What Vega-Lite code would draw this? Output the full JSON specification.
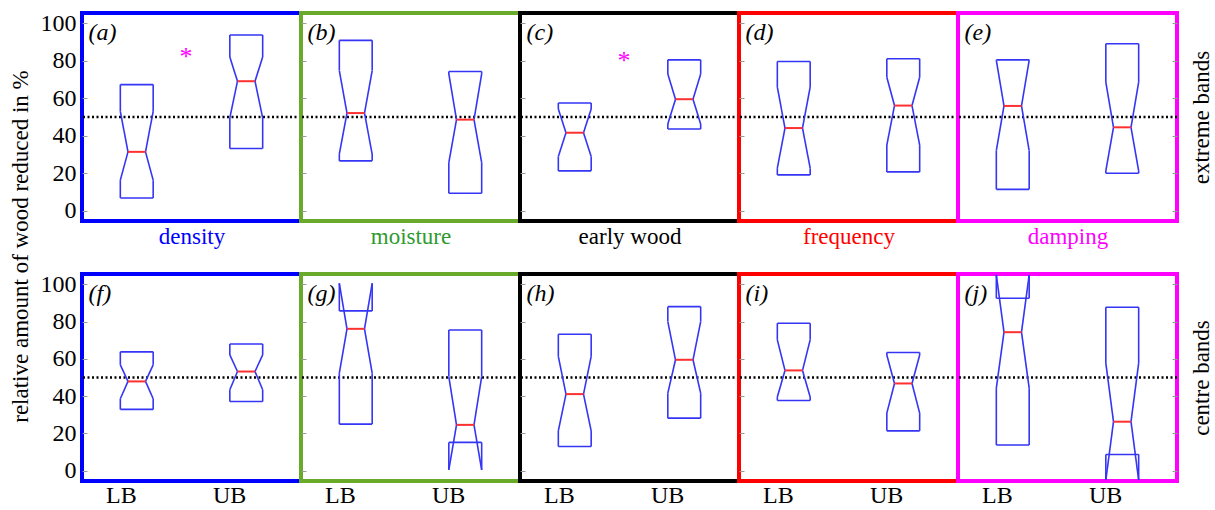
{
"$schema":"https://vega.github.io/schema/vega-lite/v6.json",
"padding":{"left":6,"top":9,"right":0,"bottom":0},
"background":"white",
"datasets":{
"boxes":[
{"p":"a","g":"LB","q1":6.8,"nlo":16.3,"med":31.4,"nhi":53,"q3":67.3},
{"p":"a","g":"UB","q1":33.2,"nlo":49.5,"med":69.1,"nhi":82,"q3":93.75},
{"p":"b","g":"LB","q1":26.6,"nlo":30.2,"med":52.1,"nhi":74.8,"q3":90.9},
{"p":"b","g":"UB","q1":9.3,"nlo":25.7,"med":48.6,"nhi":73,"q3":74.3},
{"p":"c","g":"LB","q1":21.25,"nlo":28.9,"med":41.6,"nhi":54.3,"q3":57.5},
{"p":"c","g":"UB","q1":43.6,"nlo":46.25,"med":59.5,"nhi":73,"q3":80.5},
{"p":"d","g":"LB","q1":19.1,"nlo":22.7,"med":44.1,"nhi":65.9,"q3":79.6},
{"p":"d","g":"UB","q1":20.7,"nlo":35,"med":56.1,"nhi":71.25,"q3":81.1},
{"p":"e","g":"LB","q1":11.4,"nlo":32,"med":55.9,"nhi":80.2,"q3":80.5},
{"p":"e","g":"UB","q1":20,"nlo":21.25,"med":44.5,"nhi":68.6,"q3":89.1},
{"p":"f","g":"LB","q1":32.9,"nlo":38.6,"med":47.9,"nhi":56.8,"q3":63.75},
{"p":"f","g":"UB","q1":37.1,"nlo":43.4,"med":53.2,"nhi":62.1,"q3":68},
{"p":"g","g":"LB","q1":25,"nlo":52.3,"med":76.1,"nhi":100.5,"q3":85.7},
{"p":"g","g":"UB","q1":15.2,"nlo":0.5,"med":24.6,"nhi":50.5,"q3":75.5},
{"p":"h","g":"LB","q1":13,"nlo":21.4,"med":41.1,"nhi":61.3,"q3":73.2},
{"p":"h","g":"UB","q1":28.2,"nlo":41.6,"med":59.5,"nhi":80,"q3":88},
{"p":"i","g":"LB","q1":37.7,"nlo":39.5,"med":53.8,"nhi":70.2,"q3":79.1},
{"p":"i","g":"UB","q1":21.4,"nlo":30.9,"med":46.8,"nhi":62.1,"q3":63.4},
{"p":"j","g":"LB","q1":13.8,"nlo":44.3,"med":74.3,"nhi":105,"q3":92.5},
{"p":"j","g":"UB","q1":8.75,"nlo":-5,"med":26.3,"nhi":57.7,"q3":87.7}
],
"panels":[
{"p":"a","label":"(a)","star":83.2},
{"p":"b","label":"(b)"},
{"p":"c","label":"(c)","star":81},
{"p":"d","label":"(d)"},
{"p":"e","label":"(e)"},
{"p":"f","label":"(f)"},
{"p":"g","label":"(g)"},
{"p":"h","label":"(h)"},
{"p":"i","label":"(i)"},
{"p":"j","label":"(j)"}
],
"ref":[{"y":50}]
},
"spacing":261,
"bounds":"flush",
"vconcat":[
{"hconcat":[
{"width":219,"height":208,"view":{"stroke":"#0000ff","strokeWidth":4},"data":{"name":"boxes"},"transform":[{"filter":"datum.p==='a'"}],
"layer":[
{"data":{"name":"ref"},"mark":{"type":"rule","color":"#000000","strokeWidth":2.5,"strokeDash":[2,2.5]},"encoding":{"y":{"field":"y","type":"quantitative"}}},
{"mark":{"type":"rule","color":"#3535f5","strokeWidth":1.6},"encoding":{"x":{"field":"g","type":"nominal","bandPosition":0.35,"scale":{"type":"band"}},"y":{"field":"q1","type":"quantitative"},"y2":{"field":"nlo"}}},
{"mark":{"type":"rule","color":"#3535f5","strokeWidth":1.6},"encoding":{"x":{"field":"g","type":"nominal","bandPosition":0.35,"scale":{"type":"band"}},"y":{"field":"nhi","type":"quantitative"},"y2":{"field":"q3"}}},
{"mark":{"type":"rule","color":"#3535f5","strokeWidth":1.6},"encoding":{"x":{"field":"g","type":"nominal","bandPosition":0.65,"scale":{"type":"band"}},"y":{"field":"q1","type":"quantitative"},"y2":{"field":"nlo"}}},
{"mark":{"type":"rule","color":"#3535f5","strokeWidth":1.6},"encoding":{"x":{"field":"g","type":"nominal","bandPosition":0.65,"scale":{"type":"band"}},"y":{"field":"nhi","type":"quantitative"},"y2":{"field":"q3"}}},
{"mark":{"type":"rule","color":"#3535f5","strokeWidth":1.6},"encoding":{"x":{"field":"g","type":"nominal","bandPosition":0.35,"scale":{"type":"band"}},"x2":{"field":"g","bandPosition":0.65},"y":{"field":"q1","type":"quantitative"}}},
{"mark":{"type":"rule","color":"#3535f5","strokeWidth":1.6},"encoding":{"x":{"field":"g","type":"nominal","bandPosition":0.35,"scale":{"type":"band"}},"x2":{"field":"g","bandPosition":0.65},"y":{"field":"q3","type":"quantitative"}}},
{"mark":{"type":"rule","color":"#3535f5","strokeWidth":1.6},"encoding":{"x":{"field":"g","type":"nominal","bandPosition":0.35,"scale":{"type":"band"}},"x2":{"field":"g","bandPosition":0.42},"y":{"field":"nlo","type":"quantitative"},"y2":{"field":"med"}}},
{"mark":{"type":"rule","color":"#3535f5","strokeWidth":1.6},"encoding":{"x":{"field":"g","type":"nominal","bandPosition":0.35,"scale":{"type":"band"}},"x2":{"field":"g","bandPosition":0.42},"y":{"field":"nhi","type":"quantitative"},"y2":{"field":"med"}}},
{"mark":{"type":"rule","color":"#3535f5","strokeWidth":1.6},"encoding":{"x":{"field":"g","type":"nominal","bandPosition":0.65,"scale":{"type":"band"}},"x2":{"field":"g","bandPosition":0.58},"y":{"field":"nlo","type":"quantitative"},"y2":{"field":"med"}}},
{"mark":{"type":"rule","color":"#3535f5","strokeWidth":1.6},"encoding":{"x":{"field":"g","type":"nominal","bandPosition":0.65,"scale":{"type":"band"}},"x2":{"field":"g","bandPosition":0.58},"y":{"field":"nhi","type":"quantitative"},"y2":{"field":"med"}}},
{"mark":{"type":"rule","color":"#ff3030","strokeWidth":2},"encoding":{"x":{"field":"g","type":"nominal","bandPosition":0.42,"scale":{"type":"band"},"axis":{"labels":false,"ticks":false,"title":"density","titleColor":"#0000ff","titlePadding":4}},"x2":{"field":"g","bandPosition":0.58},"y":{"field":"med","type":"quantitative","scale":{"domain":[-5.5,105.5],"nice":false,"zero":false},"axis":{"values":[0,20,40,60,80,100],"tickSize":-5,"tickColor":"#999999","labelPadding":11,"title":"relative amount of wood reduced in %","titleAngle":270,"titleX":-55,"titleY":233,"titleAlign":"center","titleBaseline":"alphabetic"}}}},
{"data":{"name":"panels"},"transform":[{"filter":"datum.p==='a'"}],"mark":{"type":"text","align":"left","baseline":"middle","font":"Liberation Serif","fontSize":24,"fontStyle":"italic"},"encoding":{"x":{"datum":"LB","type":"nominal","bandPosition":0.06,"scale":{"type":"band"}},"y":{"datum":95,"type":"quantitative"},"text":{"field":"label"}}},
{"data":{"name":"panels"},"transform":[{"filter":"datum.p==='a'"}],"mark":{"type":"text","color":"#ff00ff","fontSize":26,"font":"Liberation Serif","baseline":"middle","dy":2},"encoding":{"x":{"datum":"LB","type":"nominal","bandPosition":0.95,"scale":{"type":"band"}},"y":{"field":"star","type":"quantitative"},"text":{"value":"*"}}}
]},
{"width":219,"height":208,"view":{"stroke":"#6aaa2a","strokeWidth":4},"data":{"name":"boxes"},"transform":[{"filter":"datum.p==='b'"}],
"layer":[
{"data":{"name":"ref"},"mark":{"type":"rule","color":"#000000","strokeWidth":2.5,"strokeDash":[2,2.5]},"encoding":{"y":{"field":"y","type":"quantitative"}}},
{"mark":{"type":"rule","color":"#3535f5","strokeWidth":1.6},"encoding":{"x":{"field":"g","type":"nominal","bandPosition":0.35,"scale":{"type":"band"}},"y":{"field":"q1","type":"quantitative"},"y2":{"field":"nlo"}}},
{"mark":{"type":"rule","color":"#3535f5","strokeWidth":1.6},"encoding":{"x":{"field":"g","type":"nominal","bandPosition":0.35,"scale":{"type":"band"}},"y":{"field":"nhi","type":"quantitative"},"y2":{"field":"q3"}}},
{"mark":{"type":"rule","color":"#3535f5","strokeWidth":1.6},"encoding":{"x":{"field":"g","type":"nominal","bandPosition":0.65,"scale":{"type":"band"}},"y":{"field":"q1","type":"quantitative"},"y2":{"field":"nlo"}}},
{"mark":{"type":"rule","color":"#3535f5","strokeWidth":1.6},"encoding":{"x":{"field":"g","type":"nominal","bandPosition":0.65,"scale":{"type":"band"}},"y":{"field":"nhi","type":"quantitative"},"y2":{"field":"q3"}}},
{"mark":{"type":"rule","color":"#3535f5","strokeWidth":1.6},"encoding":{"x":{"field":"g","type":"nominal","bandPosition":0.35,"scale":{"type":"band"}},"x2":{"field":"g","bandPosition":0.65},"y":{"field":"q1","type":"quantitative"}}},
{"mark":{"type":"rule","color":"#3535f5","strokeWidth":1.6},"encoding":{"x":{"field":"g","type":"nominal","bandPosition":0.35,"scale":{"type":"band"}},"x2":{"field":"g","bandPosition":0.65},"y":{"field":"q3","type":"quantitative"}}},
{"mark":{"type":"rule","color":"#3535f5","strokeWidth":1.6},"encoding":{"x":{"field":"g","type":"nominal","bandPosition":0.35,"scale":{"type":"band"}},"x2":{"field":"g","bandPosition":0.42},"y":{"field":"nlo","type":"quantitative"},"y2":{"field":"med"}}},
{"mark":{"type":"rule","color":"#3535f5","strokeWidth":1.6},"encoding":{"x":{"field":"g","type":"nominal","bandPosition":0.35,"scale":{"type":"band"}},"x2":{"field":"g","bandPosition":0.42},"y":{"field":"nhi","type":"quantitative"},"y2":{"field":"med"}}},
{"mark":{"type":"rule","color":"#3535f5","strokeWidth":1.6},"encoding":{"x":{"field":"g","type":"nominal","bandPosition":0.65,"scale":{"type":"band"}},"x2":{"field":"g","bandPosition":0.58},"y":{"field":"nlo","type":"quantitative"},"y2":{"field":"med"}}},
{"mark":{"type":"rule","color":"#3535f5","strokeWidth":1.6},"encoding":{"x":{"field":"g","type":"nominal","bandPosition":0.65,"scale":{"type":"band"}},"x2":{"field":"g","bandPosition":0.58},"y":{"field":"nhi","type":"quantitative"},"y2":{"field":"med"}}},
{"mark":{"type":"rule","color":"#ff3030","strokeWidth":2},"encoding":{"x":{"field":"g","type":"nominal","bandPosition":0.42,"scale":{"type":"band"},"axis":{"labels":false,"ticks":false,"title":"moisture","titleColor":"#2e9a2e","titlePadding":4}},"x2":{"field":"g","bandPosition":0.58},"y":{"field":"med","type":"quantitative","scale":{"domain":[-5.5,105.5],"nice":false,"zero":false},"axis":{"values":[0,20,40,60,80,100],"tickSize":-5,"tickColor":"#999999","labels":false,"title":null}}}},
{"data":{"name":"panels"},"transform":[{"filter":"datum.p==='b'"}],"mark":{"type":"text","align":"left","baseline":"middle","font":"Liberation Serif","fontSize":24,"fontStyle":"italic"},"encoding":{"x":{"datum":"LB","type":"nominal","bandPosition":0.06,"scale":{"type":"band"}},"y":{"datum":95,"type":"quantitative"},"text":{"field":"label"}}}
]},
{"width":219,"height":208,"view":{"stroke":"#000000","strokeWidth":4},"data":{"name":"boxes"},"transform":[{"filter":"datum.p==='c'"}],
"layer":[
{"data":{"name":"ref"},"mark":{"type":"rule","color":"#000000","strokeWidth":2.5,"strokeDash":[2,2.5]},"encoding":{"y":{"field":"y","type":"quantitative"}}},
{"mark":{"type":"rule","color":"#3535f5","strokeWidth":1.6},"encoding":{"x":{"field":"g","type":"nominal","bandPosition":0.35,"scale":{"type":"band"}},"y":{"field":"q1","type":"quantitative"},"y2":{"field":"nlo"}}},
{"mark":{"type":"rule","color":"#3535f5","strokeWidth":1.6},"encoding":{"x":{"field":"g","type":"nominal","bandPosition":0.35,"scale":{"type":"band"}},"y":{"field":"nhi","type":"quantitative"},"y2":{"field":"q3"}}},
{"mark":{"type":"rule","color":"#3535f5","strokeWidth":1.6},"encoding":{"x":{"field":"g","type":"nominal","bandPosition":0.65,"scale":{"type":"band"}},"y":{"field":"q1","type":"quantitative"},"y2":{"field":"nlo"}}},
{"mark":{"type":"rule","color":"#3535f5","strokeWidth":1.6},"encoding":{"x":{"field":"g","type":"nominal","bandPosition":0.65,"scale":{"type":"band"}},"y":{"field":"nhi","type":"quantitative"},"y2":{"field":"q3"}}},
{"mark":{"type":"rule","color":"#3535f5","strokeWidth":1.6},"encoding":{"x":{"field":"g","type":"nominal","bandPosition":0.35,"scale":{"type":"band"}},"x2":{"field":"g","bandPosition":0.65},"y":{"field":"q1","type":"quantitative"}}},
{"mark":{"type":"rule","color":"#3535f5","strokeWidth":1.6},"encoding":{"x":{"field":"g","type":"nominal","bandPosition":0.35,"scale":{"type":"band"}},"x2":{"field":"g","bandPosition":0.65},"y":{"field":"q3","type":"quantitative"}}},
{"mark":{"type":"rule","color":"#3535f5","strokeWidth":1.6},"encoding":{"x":{"field":"g","type":"nominal","bandPosition":0.35,"scale":{"type":"band"}},"x2":{"field":"g","bandPosition":0.42},"y":{"field":"nlo","type":"quantitative"},"y2":{"field":"med"}}},
{"mark":{"type":"rule","color":"#3535f5","strokeWidth":1.6},"encoding":{"x":{"field":"g","type":"nominal","bandPosition":0.35,"scale":{"type":"band"}},"x2":{"field":"g","bandPosition":0.42},"y":{"field":"nhi","type":"quantitative"},"y2":{"field":"med"}}},
{"mark":{"type":"rule","color":"#3535f5","strokeWidth":1.6},"encoding":{"x":{"field":"g","type":"nominal","bandPosition":0.65,"scale":{"type":"band"}},"x2":{"field":"g","bandPosition":0.58},"y":{"field":"nlo","type":"quantitative"},"y2":{"field":"med"}}},
{"mark":{"type":"rule","color":"#3535f5","strokeWidth":1.6},"encoding":{"x":{"field":"g","type":"nominal","bandPosition":0.65,"scale":{"type":"band"}},"x2":{"field":"g","bandPosition":0.58},"y":{"field":"nhi","type":"quantitative"},"y2":{"field":"med"}}},
{"mark":{"type":"rule","color":"#ff3030","strokeWidth":2},"encoding":{"x":{"field":"g","type":"nominal","bandPosition":0.42,"scale":{"type":"band"},"axis":{"labels":false,"ticks":false,"title":"early wood","titleColor":"#000000","titlePadding":4}},"x2":{"field":"g","bandPosition":0.58},"y":{"field":"med","type":"quantitative","scale":{"domain":[-5.5,105.5],"nice":false,"zero":false},"axis":{"values":[0,20,40,60,80,100],"tickSize":-5,"tickColor":"#999999","labels":false,"title":null}}}},
{"data":{"name":"panels"},"transform":[{"filter":"datum.p==='c'"}],"mark":{"type":"text","align":"left","baseline":"middle","font":"Liberation Serif","fontSize":24,"fontStyle":"italic"},"encoding":{"x":{"datum":"LB","type":"nominal","bandPosition":0.06,"scale":{"type":"band"}},"y":{"datum":95,"type":"quantitative"},"text":{"field":"label"}}},
{"data":{"name":"panels"},"transform":[{"filter":"datum.p==='c'"}],"mark":{"type":"text","color":"#ff00ff","fontSize":26,"font":"Liberation Serif","baseline":"middle","dy":2},"encoding":{"x":{"datum":"LB","type":"nominal","bandPosition":0.95,"scale":{"type":"band"}},"y":{"field":"star","type":"quantitative"},"text":{"value":"*"}}}
]},
{"width":219,"height":208,"view":{"stroke":"#ff0000","strokeWidth":4},"data":{"name":"boxes"},"transform":[{"filter":"datum.p==='d'"}],
"layer":[
{"data":{"name":"ref"},"mark":{"type":"rule","color":"#000000","strokeWidth":2.5,"strokeDash":[2,2.5]},"encoding":{"y":{"field":"y","type":"quantitative"}}},
{"mark":{"type":"rule","color":"#3535f5","strokeWidth":1.6},"encoding":{"x":{"field":"g","type":"nominal","bandPosition":0.35,"scale":{"type":"band"}},"y":{"field":"q1","type":"quantitative"},"y2":{"field":"nlo"}}},
{"mark":{"type":"rule","color":"#3535f5","strokeWidth":1.6},"encoding":{"x":{"field":"g","type":"nominal","bandPosition":0.35,"scale":{"type":"band"}},"y":{"field":"nhi","type":"quantitative"},"y2":{"field":"q3"}}},
{"mark":{"type":"rule","color":"#3535f5","strokeWidth":1.6},"encoding":{"x":{"field":"g","type":"nominal","bandPosition":0.65,"scale":{"type":"band"}},"y":{"field":"q1","type":"quantitative"},"y2":{"field":"nlo"}}},
{"mark":{"type":"rule","color":"#3535f5","strokeWidth":1.6},"encoding":{"x":{"field":"g","type":"nominal","bandPosition":0.65,"scale":{"type":"band"}},"y":{"field":"nhi","type":"quantitative"},"y2":{"field":"q3"}}},
{"mark":{"type":"rule","color":"#3535f5","strokeWidth":1.6},"encoding":{"x":{"field":"g","type":"nominal","bandPosition":0.35,"scale":{"type":"band"}},"x2":{"field":"g","bandPosition":0.65},"y":{"field":"q1","type":"quantitative"}}},
{"mark":{"type":"rule","color":"#3535f5","strokeWidth":1.6},"encoding":{"x":{"field":"g","type":"nominal","bandPosition":0.35,"scale":{"type":"band"}},"x2":{"field":"g","bandPosition":0.65},"y":{"field":"q3","type":"quantitative"}}},
{"mark":{"type":"rule","color":"#3535f5","strokeWidth":1.6},"encoding":{"x":{"field":"g","type":"nominal","bandPosition":0.35,"scale":{"type":"band"}},"x2":{"field":"g","bandPosition":0.42},"y":{"field":"nlo","type":"quantitative"},"y2":{"field":"med"}}},
{"mark":{"type":"rule","color":"#3535f5","strokeWidth":1.6},"encoding":{"x":{"field":"g","type":"nominal","bandPosition":0.35,"scale":{"type":"band"}},"x2":{"field":"g","bandPosition":0.42},"y":{"field":"nhi","type":"quantitative"},"y2":{"field":"med"}}},
{"mark":{"type":"rule","color":"#3535f5","strokeWidth":1.6},"encoding":{"x":{"field":"g","type":"nominal","bandPosition":0.65,"scale":{"type":"band"}},"x2":{"field":"g","bandPosition":0.58},"y":{"field":"nlo","type":"quantitative"},"y2":{"field":"med"}}},
{"mark":{"type":"rule","color":"#3535f5","strokeWidth":1.6},"encoding":{"x":{"field":"g","type":"nominal","bandPosition":0.65,"scale":{"type":"band"}},"x2":{"field":"g","bandPosition":0.58},"y":{"field":"nhi","type":"quantitative"},"y2":{"field":"med"}}},
{"mark":{"type":"rule","color":"#ff3030","strokeWidth":2},"encoding":{"x":{"field":"g","type":"nominal","bandPosition":0.42,"scale":{"type":"band"},"axis":{"labels":false,"ticks":false,"title":"frequency","titleColor":"#ff0000","titlePadding":4}},"x2":{"field":"g","bandPosition":0.58},"y":{"field":"med","type":"quantitative","scale":{"domain":[-5.5,105.5],"nice":false,"zero":false},"axis":{"values":[0,20,40,60,80,100],"tickSize":-5,"tickColor":"#999999","labels":false,"title":null}}}},
{"data":{"name":"panels"},"transform":[{"filter":"datum.p==='d'"}],"mark":{"type":"text","align":"left","baseline":"middle","font":"Liberation Serif","fontSize":24,"fontStyle":"italic"},"encoding":{"x":{"datum":"LB","type":"nominal","bandPosition":0.06,"scale":{"type":"band"}},"y":{"datum":95,"type":"quantitative"},"text":{"field":"label"}}}
]},
{"width":219,"height":208,"view":{"stroke":"#ff00ff","strokeWidth":4},"data":{"name":"boxes"},"transform":[{"filter":"datum.p==='e'"}],
"layer":[
{"data":{"name":"ref"},"mark":{"type":"rule","color":"#000000","strokeWidth":2.5,"strokeDash":[2,2.5]},"encoding":{"y":{"field":"y","type":"quantitative"}}},
{"mark":{"type":"rule","color":"#3535f5","strokeWidth":1.6},"encoding":{"x":{"field":"g","type":"nominal","bandPosition":0.35,"scale":{"type":"band"}},"y":{"field":"q1","type":"quantitative"},"y2":{"field":"nlo"}}},
{"mark":{"type":"rule","color":"#3535f5","strokeWidth":1.6},"encoding":{"x":{"field":"g","type":"nominal","bandPosition":0.35,"scale":{"type":"band"}},"y":{"field":"nhi","type":"quantitative"},"y2":{"field":"q3"}}},
{"mark":{"type":"rule","color":"#3535f5","strokeWidth":1.6},"encoding":{"x":{"field":"g","type":"nominal","bandPosition":0.65,"scale":{"type":"band"}},"y":{"field":"q1","type":"quantitative"},"y2":{"field":"nlo"}}},
{"mark":{"type":"rule","color":"#3535f5","strokeWidth":1.6},"encoding":{"x":{"field":"g","type":"nominal","bandPosition":0.65,"scale":{"type":"band"}},"y":{"field":"nhi","type":"quantitative"},"y2":{"field":"q3"}}},
{"mark":{"type":"rule","color":"#3535f5","strokeWidth":1.6},"encoding":{"x":{"field":"g","type":"nominal","bandPosition":0.35,"scale":{"type":"band"}},"x2":{"field":"g","bandPosition":0.65},"y":{"field":"q1","type":"quantitative"}}},
{"mark":{"type":"rule","color":"#3535f5","strokeWidth":1.6},"encoding":{"x":{"field":"g","type":"nominal","bandPosition":0.35,"scale":{"type":"band"}},"x2":{"field":"g","bandPosition":0.65},"y":{"field":"q3","type":"quantitative"}}},
{"mark":{"type":"rule","color":"#3535f5","strokeWidth":1.6},"encoding":{"x":{"field":"g","type":"nominal","bandPosition":0.35,"scale":{"type":"band"}},"x2":{"field":"g","bandPosition":0.42},"y":{"field":"nlo","type":"quantitative"},"y2":{"field":"med"}}},
{"mark":{"type":"rule","color":"#3535f5","strokeWidth":1.6},"encoding":{"x":{"field":"g","type":"nominal","bandPosition":0.35,"scale":{"type":"band"}},"x2":{"field":"g","bandPosition":0.42},"y":{"field":"nhi","type":"quantitative"},"y2":{"field":"med"}}},
{"mark":{"type":"rule","color":"#3535f5","strokeWidth":1.6},"encoding":{"x":{"field":"g","type":"nominal","bandPosition":0.65,"scale":{"type":"band"}},"x2":{"field":"g","bandPosition":0.58},"y":{"field":"nlo","type":"quantitative"},"y2":{"field":"med"}}},
{"mark":{"type":"rule","color":"#3535f5","strokeWidth":1.6},"encoding":{"x":{"field":"g","type":"nominal","bandPosition":0.65,"scale":{"type":"band"}},"x2":{"field":"g","bandPosition":0.58},"y":{"field":"nhi","type":"quantitative"},"y2":{"field":"med"}}},
{"mark":{"type":"rule","color":"#ff3030","strokeWidth":2},"encoding":{"x":{"field":"g","type":"nominal","bandPosition":0.42,"scale":{"type":"band"},"axis":{"labels":false,"ticks":false,"title":"damping","titleColor":"#ff00ff","titlePadding":4}},"x2":{"field":"g","bandPosition":0.58},"y":{"field":"med","type":"quantitative","scale":{"domain":[-5.5,105.5],"nice":false,"zero":false},"axis":{"orient":"right","values":[0,20,40,60,80,100],"tickSize":-5,"tickColor":"#999999","labels":false,"title":"extreme bands","titleAngle":270,"titleX":31,"titleAlign":"center","titleBaseline":"alphabetic"}}}},
{"data":{"name":"panels"},"transform":[{"filter":"datum.p==='e'"}],"mark":{"type":"text","align":"left","baseline":"middle","font":"Liberation Serif","fontSize":24,"fontStyle":"italic"},"encoding":{"x":{"datum":"LB","type":"nominal","bandPosition":0.06,"scale":{"type":"band"}},"y":{"datum":95,"type":"quantitative"},"text":{"field":"label"}}}
]}
],"spacing":0,"bounds":"flush"},
{"hconcat":[
{"width":219,"height":207,"view":{"stroke":"#0000ff","strokeWidth":4},"data":{"name":"boxes"},"transform":[{"filter":"datum.p==='f'"}],
"layer":[
{"data":{"name":"ref"},"mark":{"type":"rule","color":"#000000","strokeWidth":2.5,"strokeDash":[2,2.5]},"encoding":{"y":{"field":"y","type":"quantitative"}}},
{"mark":{"type":"rule","color":"#3535f5","strokeWidth":1.6},"encoding":{"x":{"field":"g","type":"nominal","bandPosition":0.35,"scale":{"type":"band"}},"y":{"field":"q1","type":"quantitative"},"y2":{"field":"nlo"}}},
{"mark":{"type":"rule","color":"#3535f5","strokeWidth":1.6},"encoding":{"x":{"field":"g","type":"nominal","bandPosition":0.35,"scale":{"type":"band"}},"y":{"field":"nhi","type":"quantitative"},"y2":{"field":"q3"}}},
{"mark":{"type":"rule","color":"#3535f5","strokeWidth":1.6},"encoding":{"x":{"field":"g","type":"nominal","bandPosition":0.65,"scale":{"type":"band"}},"y":{"field":"q1","type":"quantitative"},"y2":{"field":"nlo"}}},
{"mark":{"type":"rule","color":"#3535f5","strokeWidth":1.6},"encoding":{"x":{"field":"g","type":"nominal","bandPosition":0.65,"scale":{"type":"band"}},"y":{"field":"nhi","type":"quantitative"},"y2":{"field":"q3"}}},
{"mark":{"type":"rule","color":"#3535f5","strokeWidth":1.6},"encoding":{"x":{"field":"g","type":"nominal","bandPosition":0.35,"scale":{"type":"band"}},"x2":{"field":"g","bandPosition":0.65},"y":{"field":"q1","type":"quantitative"}}},
{"mark":{"type":"rule","color":"#3535f5","strokeWidth":1.6},"encoding":{"x":{"field":"g","type":"nominal","bandPosition":0.35,"scale":{"type":"band"}},"x2":{"field":"g","bandPosition":0.65},"y":{"field":"q3","type":"quantitative"}}},
{"mark":{"type":"rule","color":"#3535f5","strokeWidth":1.6},"encoding":{"x":{"field":"g","type":"nominal","bandPosition":0.35,"scale":{"type":"band"}},"x2":{"field":"g","bandPosition":0.42},"y":{"field":"nlo","type":"quantitative"},"y2":{"field":"med"}}},
{"mark":{"type":"rule","color":"#3535f5","strokeWidth":1.6},"encoding":{"x":{"field":"g","type":"nominal","bandPosition":0.35,"scale":{"type":"band"}},"x2":{"field":"g","bandPosition":0.42},"y":{"field":"nhi","type":"quantitative"},"y2":{"field":"med"}}},
{"mark":{"type":"rule","color":"#3535f5","strokeWidth":1.6},"encoding":{"x":{"field":"g","type":"nominal","bandPosition":0.65,"scale":{"type":"band"}},"x2":{"field":"g","bandPosition":0.58},"y":{"field":"nlo","type":"quantitative"},"y2":{"field":"med"}}},
{"mark":{"type":"rule","color":"#3535f5","strokeWidth":1.6},"encoding":{"x":{"field":"g","type":"nominal","bandPosition":0.65,"scale":{"type":"band"}},"x2":{"field":"g","bandPosition":0.58},"y":{"field":"nhi","type":"quantitative"},"y2":{"field":"med"}}},
{"mark":{"type":"rule","color":"#ff3030","strokeWidth":2},"encoding":{"x":{"field":"g","type":"nominal","bandPosition":0.42,"scale":{"type":"band"},"axis":{"title":null,"ticks":false,"labelAngle":0,"labelPadding":14}},"x2":{"field":"g","bandPosition":0.58},"y":{"field":"med","type":"quantitative","scale":{"domain":[-5.5,105.5],"nice":false,"zero":false},"axis":{"values":[0,20,40,60,80,100],"tickSize":-5,"tickColor":"#999999","labelPadding":11,"title":null}}}},
{"data":{"name":"panels"},"transform":[{"filter":"datum.p==='f'"}],"mark":{"type":"text","align":"left","baseline":"middle","font":"Liberation Serif","fontSize":24,"fontStyle":"italic"},"encoding":{"x":{"datum":"LB","type":"nominal","bandPosition":0.06,"scale":{"type":"band"}},"y":{"datum":95,"type":"quantitative"},"text":{"field":"label"}}}
]},
{"width":219,"height":207,"view":{"stroke":"#6aaa2a","strokeWidth":4},"data":{"name":"boxes"},"transform":[{"filter":"datum.p==='g'"}],
"layer":[
{"data":{"name":"ref"},"mark":{"type":"rule","color":"#000000","strokeWidth":2.5,"strokeDash":[2,2.5]},"encoding":{"y":{"field":"y","type":"quantitative"}}},
{"mark":{"type":"rule","color":"#3535f5","strokeWidth":1.6},"encoding":{"x":{"field":"g","type":"nominal","bandPosition":0.35,"scale":{"type":"band"}},"y":{"field":"q1","type":"quantitative"},"y2":{"field":"nlo"}}},
{"mark":{"type":"rule","color":"#3535f5","strokeWidth":1.6},"encoding":{"x":{"field":"g","type":"nominal","bandPosition":0.35,"scale":{"type":"band"}},"y":{"field":"nhi","type":"quantitative"},"y2":{"field":"q3"}}},
{"mark":{"type":"rule","color":"#3535f5","strokeWidth":1.6},"encoding":{"x":{"field":"g","type":"nominal","bandPosition":0.65,"scale":{"type":"band"}},"y":{"field":"q1","type":"quantitative"},"y2":{"field":"nlo"}}},
{"mark":{"type":"rule","color":"#3535f5","strokeWidth":1.6},"encoding":{"x":{"field":"g","type":"nominal","bandPosition":0.65,"scale":{"type":"band"}},"y":{"field":"nhi","type":"quantitative"},"y2":{"field":"q3"}}},
{"mark":{"type":"rule","color":"#3535f5","strokeWidth":1.6},"encoding":{"x":{"field":"g","type":"nominal","bandPosition":0.35,"scale":{"type":"band"}},"x2":{"field":"g","bandPosition":0.65},"y":{"field":"q1","type":"quantitative"}}},
{"mark":{"type":"rule","color":"#3535f5","strokeWidth":1.6},"encoding":{"x":{"field":"g","type":"nominal","bandPosition":0.35,"scale":{"type":"band"}},"x2":{"field":"g","bandPosition":0.65},"y":{"field":"q3","type":"quantitative"}}},
{"mark":{"type":"rule","color":"#3535f5","strokeWidth":1.6},"encoding":{"x":{"field":"g","type":"nominal","bandPosition":0.35,"scale":{"type":"band"}},"x2":{"field":"g","bandPosition":0.42},"y":{"field":"nlo","type":"quantitative"},"y2":{"field":"med"}}},
{"mark":{"type":"rule","color":"#3535f5","strokeWidth":1.6},"encoding":{"x":{"field":"g","type":"nominal","bandPosition":0.35,"scale":{"type":"band"}},"x2":{"field":"g","bandPosition":0.42},"y":{"field":"nhi","type":"quantitative"},"y2":{"field":"med"}}},
{"mark":{"type":"rule","color":"#3535f5","strokeWidth":1.6},"encoding":{"x":{"field":"g","type":"nominal","bandPosition":0.65,"scale":{"type":"band"}},"x2":{"field":"g","bandPosition":0.58},"y":{"field":"nlo","type":"quantitative"},"y2":{"field":"med"}}},
{"mark":{"type":"rule","color":"#3535f5","strokeWidth":1.6},"encoding":{"x":{"field":"g","type":"nominal","bandPosition":0.65,"scale":{"type":"band"}},"x2":{"field":"g","bandPosition":0.58},"y":{"field":"nhi","type":"quantitative"},"y2":{"field":"med"}}},
{"mark":{"type":"rule","color":"#ff3030","strokeWidth":2},"encoding":{"x":{"field":"g","type":"nominal","bandPosition":0.42,"scale":{"type":"band"},"axis":{"title":null,"ticks":false,"labelAngle":0,"labelPadding":14}},"x2":{"field":"g","bandPosition":0.58},"y":{"field":"med","type":"quantitative","scale":{"domain":[-5.5,105.5],"nice":false,"zero":false},"axis":{"values":[0,20,40,60,80,100],"tickSize":-5,"tickColor":"#999999","labels":false,"title":null}}}},
{"data":{"name":"panels"},"transform":[{"filter":"datum.p==='g'"}],"mark":{"type":"text","align":"left","baseline":"middle","font":"Liberation Serif","fontSize":24,"fontStyle":"italic"},"encoding":{"x":{"datum":"LB","type":"nominal","bandPosition":0.06,"scale":{"type":"band"}},"y":{"datum":95,"type":"quantitative"},"text":{"field":"label"}}}
]},
{"width":219,"height":207,"view":{"stroke":"#000000","strokeWidth":4},"data":{"name":"boxes"},"transform":[{"filter":"datum.p==='h'"}],
"layer":[
{"data":{"name":"ref"},"mark":{"type":"rule","color":"#000000","strokeWidth":2.5,"strokeDash":[2,2.5]},"encoding":{"y":{"field":"y","type":"quantitative"}}},
{"mark":{"type":"rule","color":"#3535f5","strokeWidth":1.6},"encoding":{"x":{"field":"g","type":"nominal","bandPosition":0.35,"scale":{"type":"band"}},"y":{"field":"q1","type":"quantitative"},"y2":{"field":"nlo"}}},
{"mark":{"type":"rule","color":"#3535f5","strokeWidth":1.6},"encoding":{"x":{"field":"g","type":"nominal","bandPosition":0.35,"scale":{"type":"band"}},"y":{"field":"nhi","type":"quantitative"},"y2":{"field":"q3"}}},
{"mark":{"type":"rule","color":"#3535f5","strokeWidth":1.6},"encoding":{"x":{"field":"g","type":"nominal","bandPosition":0.65,"scale":{"type":"band"}},"y":{"field":"q1","type":"quantitative"},"y2":{"field":"nlo"}}},
{"mark":{"type":"rule","color":"#3535f5","strokeWidth":1.6},"encoding":{"x":{"field":"g","type":"nominal","bandPosition":0.65,"scale":{"type":"band"}},"y":{"field":"nhi","type":"quantitative"},"y2":{"field":"q3"}}},
{"mark":{"type":"rule","color":"#3535f5","strokeWidth":1.6},"encoding":{"x":{"field":"g","type":"nominal","bandPosition":0.35,"scale":{"type":"band"}},"x2":{"field":"g","bandPosition":0.65},"y":{"field":"q1","type":"quantitative"}}},
{"mark":{"type":"rule","color":"#3535f5","strokeWidth":1.6},"encoding":{"x":{"field":"g","type":"nominal","bandPosition":0.35,"scale":{"type":"band"}},"x2":{"field":"g","bandPosition":0.65},"y":{"field":"q3","type":"quantitative"}}},
{"mark":{"type":"rule","color":"#3535f5","strokeWidth":1.6},"encoding":{"x":{"field":"g","type":"nominal","bandPosition":0.35,"scale":{"type":"band"}},"x2":{"field":"g","bandPosition":0.42},"y":{"field":"nlo","type":"quantitative"},"y2":{"field":"med"}}},
{"mark":{"type":"rule","color":"#3535f5","strokeWidth":1.6},"encoding":{"x":{"field":"g","type":"nominal","bandPosition":0.35,"scale":{"type":"band"}},"x2":{"field":"g","bandPosition":0.42},"y":{"field":"nhi","type":"quantitative"},"y2":{"field":"med"}}},
{"mark":{"type":"rule","color":"#3535f5","strokeWidth":1.6},"encoding":{"x":{"field":"g","type":"nominal","bandPosition":0.65,"scale":{"type":"band"}},"x2":{"field":"g","bandPosition":0.58},"y":{"field":"nlo","type":"quantitative"},"y2":{"field":"med"}}},
{"mark":{"type":"rule","color":"#3535f5","strokeWidth":1.6},"encoding":{"x":{"field":"g","type":"nominal","bandPosition":0.65,"scale":{"type":"band"}},"x2":{"field":"g","bandPosition":0.58},"y":{"field":"nhi","type":"quantitative"},"y2":{"field":"med"}}},
{"mark":{"type":"rule","color":"#ff3030","strokeWidth":2},"encoding":{"x":{"field":"g","type":"nominal","bandPosition":0.42,"scale":{"type":"band"},"axis":{"title":null,"ticks":false,"labelAngle":0,"labelPadding":14}},"x2":{"field":"g","bandPosition":0.58},"y":{"field":"med","type":"quantitative","scale":{"domain":[-5.5,105.5],"nice":false,"zero":false},"axis":{"values":[0,20,40,60,80,100],"tickSize":-5,"tickColor":"#999999","labels":false,"title":null}}}},
{"data":{"name":"panels"},"transform":[{"filter":"datum.p==='h'"}],"mark":{"type":"text","align":"left","baseline":"middle","font":"Liberation Serif","fontSize":24,"fontStyle":"italic"},"encoding":{"x":{"datum":"LB","type":"nominal","bandPosition":0.06,"scale":{"type":"band"}},"y":{"datum":95,"type":"quantitative"},"text":{"field":"label"}}}
]},
{"width":219,"height":207,"view":{"stroke":"#ff0000","strokeWidth":4},"data":{"name":"boxes"},"transform":[{"filter":"datum.p==='i'"}],
"layer":[
{"data":{"name":"ref"},"mark":{"type":"rule","color":"#000000","strokeWidth":2.5,"strokeDash":[2,2.5]},"encoding":{"y":{"field":"y","type":"quantitative"}}},
{"mark":{"type":"rule","color":"#3535f5","strokeWidth":1.6},"encoding":{"x":{"field":"g","type":"nominal","bandPosition":0.35,"scale":{"type":"band"}},"y":{"field":"q1","type":"quantitative"},"y2":{"field":"nlo"}}},
{"mark":{"type":"rule","color":"#3535f5","strokeWidth":1.6},"encoding":{"x":{"field":"g","type":"nominal","bandPosition":0.35,"scale":{"type":"band"}},"y":{"field":"nhi","type":"quantitative"},"y2":{"field":"q3"}}},
{"mark":{"type":"rule","color":"#3535f5","strokeWidth":1.6},"encoding":{"x":{"field":"g","type":"nominal","bandPosition":0.65,"scale":{"type":"band"}},"y":{"field":"q1","type":"quantitative"},"y2":{"field":"nlo"}}},
{"mark":{"type":"rule","color":"#3535f5","strokeWidth":1.6},"encoding":{"x":{"field":"g","type":"nominal","bandPosition":0.65,"scale":{"type":"band"}},"y":{"field":"nhi","type":"quantitative"},"y2":{"field":"q3"}}},
{"mark":{"type":"rule","color":"#3535f5","strokeWidth":1.6},"encoding":{"x":{"field":"g","type":"nominal","bandPosition":0.35,"scale":{"type":"band"}},"x2":{"field":"g","bandPosition":0.65},"y":{"field":"q1","type":"quantitative"}}},
{"mark":{"type":"rule","color":"#3535f5","strokeWidth":1.6},"encoding":{"x":{"field":"g","type":"nominal","bandPosition":0.35,"scale":{"type":"band"}},"x2":{"field":"g","bandPosition":0.65},"y":{"field":"q3","type":"quantitative"}}},
{"mark":{"type":"rule","color":"#3535f5","strokeWidth":1.6},"encoding":{"x":{"field":"g","type":"nominal","bandPosition":0.35,"scale":{"type":"band"}},"x2":{"field":"g","bandPosition":0.42},"y":{"field":"nlo","type":"quantitative"},"y2":{"field":"med"}}},
{"mark":{"type":"rule","color":"#3535f5","strokeWidth":1.6},"encoding":{"x":{"field":"g","type":"nominal","bandPosition":0.35,"scale":{"type":"band"}},"x2":{"field":"g","bandPosition":0.42},"y":{"field":"nhi","type":"quantitative"},"y2":{"field":"med"}}},
{"mark":{"type":"rule","color":"#3535f5","strokeWidth":1.6},"encoding":{"x":{"field":"g","type":"nominal","bandPosition":0.65,"scale":{"type":"band"}},"x2":{"field":"g","bandPosition":0.58},"y":{"field":"nlo","type":"quantitative"},"y2":{"field":"med"}}},
{"mark":{"type":"rule","color":"#3535f5","strokeWidth":1.6},"encoding":{"x":{"field":"g","type":"nominal","bandPosition":0.65,"scale":{"type":"band"}},"x2":{"field":"g","bandPosition":0.58},"y":{"field":"nhi","type":"quantitative"},"y2":{"field":"med"}}},
{"mark":{"type":"rule","color":"#ff3030","strokeWidth":2},"encoding":{"x":{"field":"g","type":"nominal","bandPosition":0.42,"scale":{"type":"band"},"axis":{"title":null,"ticks":false,"labelAngle":0,"labelPadding":14}},"x2":{"field":"g","bandPosition":0.58},"y":{"field":"med","type":"quantitative","scale":{"domain":[-5.5,105.5],"nice":false,"zero":false},"axis":{"values":[0,20,40,60,80,100],"tickSize":-5,"tickColor":"#999999","labels":false,"title":null}}}},
{"data":{"name":"panels"},"transform":[{"filter":"datum.p==='i'"}],"mark":{"type":"text","align":"left","baseline":"middle","font":"Liberation Serif","fontSize":24,"fontStyle":"italic"},"encoding":{"x":{"datum":"LB","type":"nominal","bandPosition":0.06,"scale":{"type":"band"}},"y":{"datum":95,"type":"quantitative"},"text":{"field":"label"}}}
]},
{"width":219,"height":207,"view":{"stroke":"#ff00ff","strokeWidth":4},"data":{"name":"boxes"},"transform":[{"filter":"datum.p==='j'"}],
"layer":[
{"data":{"name":"ref"},"mark":{"type":"rule","color":"#000000","strokeWidth":2.5,"strokeDash":[2,2.5]},"encoding":{"y":{"field":"y","type":"quantitative"}}},
{"mark":{"type":"rule","color":"#3535f5","strokeWidth":1.6},"encoding":{"x":{"field":"g","type":"nominal","bandPosition":0.35,"scale":{"type":"band"}},"y":{"field":"q1","type":"quantitative"},"y2":{"field":"nlo"}}},
{"mark":{"type":"rule","color":"#3535f5","strokeWidth":1.6},"encoding":{"x":{"field":"g","type":"nominal","bandPosition":0.35,"scale":{"type":"band"}},"y":{"field":"nhi","type":"quantitative"},"y2":{"field":"q3"}}},
{"mark":{"type":"rule","color":"#3535f5","strokeWidth":1.6},"encoding":{"x":{"field":"g","type":"nominal","bandPosition":0.65,"scale":{"type":"band"}},"y":{"field":"q1","type":"quantitative"},"y2":{"field":"nlo"}}},
{"mark":{"type":"rule","color":"#3535f5","strokeWidth":1.6},"encoding":{"x":{"field":"g","type":"nominal","bandPosition":0.65,"scale":{"type":"band"}},"y":{"field":"nhi","type":"quantitative"},"y2":{"field":"q3"}}},
{"mark":{"type":"rule","color":"#3535f5","strokeWidth":1.6},"encoding":{"x":{"field":"g","type":"nominal","bandPosition":0.35,"scale":{"type":"band"}},"x2":{"field":"g","bandPosition":0.65},"y":{"field":"q1","type":"quantitative"}}},
{"mark":{"type":"rule","color":"#3535f5","strokeWidth":1.6},"encoding":{"x":{"field":"g","type":"nominal","bandPosition":0.35,"scale":{"type":"band"}},"x2":{"field":"g","bandPosition":0.65},"y":{"field":"q3","type":"quantitative"}}},
{"mark":{"type":"rule","color":"#3535f5","strokeWidth":1.6},"encoding":{"x":{"field":"g","type":"nominal","bandPosition":0.35,"scale":{"type":"band"}},"x2":{"field":"g","bandPosition":0.42},"y":{"field":"nlo","type":"quantitative"},"y2":{"field":"med"}}},
{"mark":{"type":"rule","color":"#3535f5","strokeWidth":1.6},"encoding":{"x":{"field":"g","type":"nominal","bandPosition":0.35,"scale":{"type":"band"}},"x2":{"field":"g","bandPosition":0.42},"y":{"field":"nhi","type":"quantitative"},"y2":{"field":"med"}}},
{"mark":{"type":"rule","color":"#3535f5","strokeWidth":1.6},"encoding":{"x":{"field":"g","type":"nominal","bandPosition":0.65,"scale":{"type":"band"}},"x2":{"field":"g","bandPosition":0.58},"y":{"field":"nlo","type":"quantitative"},"y2":{"field":"med"}}},
{"mark":{"type":"rule","color":"#3535f5","strokeWidth":1.6},"encoding":{"x":{"field":"g","type":"nominal","bandPosition":0.65,"scale":{"type":"band"}},"x2":{"field":"g","bandPosition":0.58},"y":{"field":"nhi","type":"quantitative"},"y2":{"field":"med"}}},
{"mark":{"type":"rule","color":"#ff3030","strokeWidth":2},"encoding":{"x":{"field":"g","type":"nominal","bandPosition":0.42,"scale":{"type":"band"},"axis":{"title":null,"ticks":false,"labelAngle":0,"labelPadding":14}},"x2":{"field":"g","bandPosition":0.58},"y":{"field":"med","type":"quantitative","scale":{"domain":[-5.5,105.5],"nice":false,"zero":false},"axis":{"orient":"right","values":[0,20,40,60,80,100],"tickSize":-5,"tickColor":"#999999","labels":false,"title":"centre bands","titleAngle":270,"titleX":31,"titleAlign":"center","titleBaseline":"alphabetic"}}}},
{"data":{"name":"panels"},"transform":[{"filter":"datum.p==='j'"}],"mark":{"type":"text","align":"left","baseline":"middle","font":"Liberation Serif","fontSize":24,"fontStyle":"italic"},"encoding":{"x":{"datum":"LB","type":"nominal","bandPosition":0.06,"scale":{"type":"band"}},"y":{"datum":95,"type":"quantitative"},"text":{"field":"label"}}}
]}
],"spacing":0,"bounds":"flush"}
],
"config":{
"view":{"strokeWidth":4},
"scale":{"bandPaddingInner":0,"bandPaddingOuter":0},
"axis":{"labelFont":"Liberation Serif","titleFont":"Liberation Serif","labelFontSize":24,"titleFontSize":23,"titleFontWeight":"normal","labelColor":"#000000","titleColor":"#000000","grid":false,"domain":false}
}
}
